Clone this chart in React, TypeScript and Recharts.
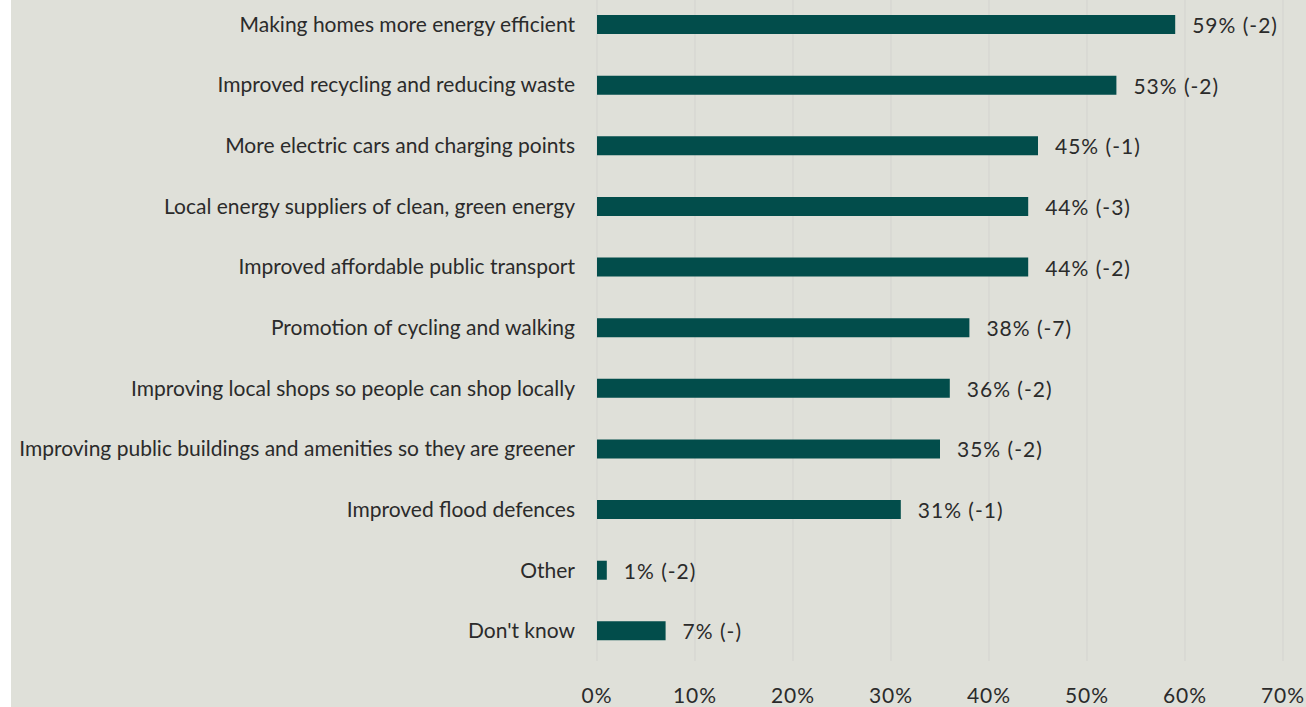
import { BarChart, Bar, XAxis, YAxis, CartesianGrid, LabelList } from 'recharts'

// Kategori dan nilai (persentase)
const categories = [
  'Making homes more energy efficient',
  'Improved recycling and reducing waste',
  'More electric cars and charging points',
  'Local energy suppliers of clean, green energy',
  'Improved affordable public transport',
  'Promotion of cycling and walking',
  'Improving local shops so people can shop locally',
  'Improving public buildings and amenities so they are greener',
  'Improved flood defences',
  'Other',
  "Don't know",
]
const shares = [59, 53, 45, 44, 44, 38, 36, 35, 31, 1, 7]
const changes = ['-2', '-2', '-1', '-3', '-2', '-7', '-2', '-2', '-1', '-2', '-']
const xTicks = [0, 10, 20, 30, 40, 50, 60, 70]

const data = categories.map((name, i) => ({
  name,
  value: shares[i],
  label: `${shares[i]}% (${changes[i]})`,
}))

const FONT = 'Lato, "Noto Sans", sans-serif'
const TEXT = '#2b2b2b'
const BAR = '#024d4b'
const BG = '#dfe0d9'

function ValueLabel(props: any) {
  const { x, y, width, height, value } = props
  return (
    <text
      x={x + width + 17}
      y={y + height / 2}
      dominantBaseline="central"
      fontSize={21}
      letterSpacing={1}
      fontFamily={FONT}
      fill={TEXT}
    >
      {value}
    </text>
  )
}

export default function App() {
  return (
    <div
      style={{
        position: 'fixed',
        left: 0,
        top: 0,
        width: 1306,
        height: 707,
        background: '#ffffff',
        overflow: 'hidden',
      }}
    >
      <div
        style={{
          position: 'absolute',
          left: 11,
          top: 0,
          width: 1295,
          height: 707,
          background: BG,
          overflow: 'hidden',
        }}
      >
        <div style={{ position: 'absolute', left: 0, top: -6 }}>
          <BarChart
            width={1295}
            height={713}
            data={data}
            layout="vertical"
            margin={{ top: 0, right: 23, bottom: 0, left: 0 }}
            barSize={19}
          >
            <CartesianGrid horizontal={false} stroke="#d3d3cf" strokeWidth={1} />
            <XAxis
              type="number"
              domain={[0, 70]}
              ticks={xTicks}
              tickFormatter={(v) => `${v}%`}
              axisLine={false}
              tickLine={false}
              interval={0}
              height={46}
              tickMargin={21}
              tick={{ fontSize: 21, fontFamily: FONT, fill: TEXT, letterSpacing: 1 }}
            />
            <YAxis
              type="category"
              dataKey="name"
              width={586}
              axisLine={false}
              tickLine={false}
              interval={0}
              tickMargin={16}
              tick={{ fontSize: 21, fontFamily: FONT, fill: TEXT }}
            />
            <Bar dataKey="value" fill={BAR} isAnimationActive={false}>
              <LabelList dataKey="label" content={ValueLabel} />
            </Bar>
          </BarChart>
        </div>
      </div>
    </div>
  )
}
